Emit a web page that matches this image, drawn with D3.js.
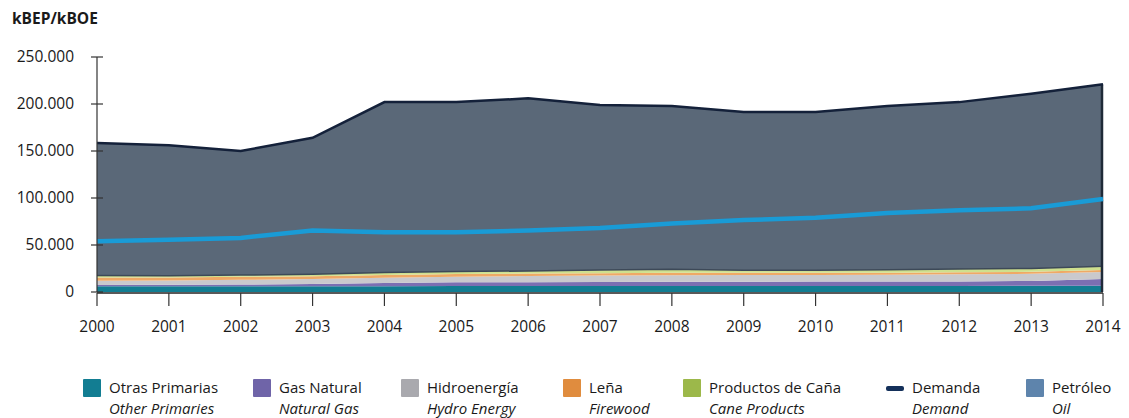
<!DOCTYPE html>
<html>
<head>
<meta charset="utf-8">
<script src="https://cdn.jsdelivr.net/npm/d3@7"></script>
<style>
  body { margin: 0; background: #fff; }
  svg text { font-family: "Open Sans", sans-serif; fill: #1a1a1a; }
</style>
</head>
<body>
<svg id="chart" width="1129" height="418"></svg>
<script>
var years = [2000, 2001, 2002, 2003, 2004, 2005, 2006, 2007, 2008, 2009, 2010, 2011, 2012, 2013, 2014];

var otrasPrimarias = [6000, 6000, 6000, 6000, 6200, 6300, 6300, 6400, 6400, 6500, 6500, 6500, 6500, 6600, 6700];
var gasNatural     = [1500, 1800, 2000, 2500, 3500, 4000, 4200, 4300, 4500, 4500, 4600, 4600, 4800, 5200, 7000];
var hidroenergia   = [4500, 4500, 5000, 5200, 5500, 6000, 6500, 6800, 7000, 7000, 7000, 7200, 7500, 7500, 7500];
var lena           = [3500, 3200, 3200, 3000, 3000, 2800, 2600, 2500, 2500, 2400, 2300, 2300, 2200, 2200, 2200];
var productosCana  = [2000, 1800, 1800, 2200, 2500, 2600, 2800, 3500, 3800, 2800, 2800, 3200, 3500, 3500, 4000];
var petroleo       = [141000, 138700, 132000, 145100, 181300, 180300, 183600, 175500, 173800, 168300, 168300, 174200, 177500, 186000, 193600];
var demanda        = [158500, 156000, 150000, 164000, 202000, 202000, 206000, 199000, 198000, 191500, 191500, 198000, 202000, 211000, 221000];
var lineaCeleste   = [54000, 55500, 57500, 65500, 63500, 63500, 65500, 68000, 73000, 76500, 79000, 84000, 87000, 89000, 99000];

var yTicks = [0, 50000, 100000, 150000, 200000, 250000];

var series = [
  {key: "otras", color: "#127d92", values: otrasPrimarias},
  {key: "gas", color: "#7b6fb2", values: gasNatural},
  {key: "hidro", color: "#c9c9cd", values: hidroenergia},
  {key: "lena", color: "#efa965", values: lena},
  {key: "cana", color: "#cfe08e", values: productosCana},
  {key: "petroleo", color: "#5a6878", values: petroleo}
];

var table = years.map(function (y, i) {
  var row = {year: y};
  series.forEach(function (s) { row[s.key] = s.values[i]; });
  return row;
});

var svg = d3.select("#chart");
var margin = {left: 97, right: 1103, top: 57, bottom: 292};

var x = d3.scaleLinear().domain([2000, 2014]).range([margin.left, margin.right]);
var y = d3.scaleLinear().domain([0, 250000]).range([margin.bottom, margin.top]);

var stack = d3.stack().keys(series.map(function (s) { return s.key; }));
var layers = stack(table);

var area = d3.area()
  .x(function (d) { return x(d.data.year); })
  .y0(function (d) { return y(d[0]); })
  .y1(function (d) { return y(d[1]); });

var colorOf = {};
series.forEach(function (s) { colorOf[s.key] = s.color; });

svg.append("g").selectAll("path")
  .data(layers)
  .enter().append("path")
  .attr("d", area)
  .attr("fill", function (d) { return colorOf[d.key]; });

// dark edge under the oil layer
var lowerEdge = d3.line()
  .x(function (d) { return x(d.data.year); })
  .y(function (d) { return y(d[0]); });
svg.append("path")
  .datum(layers[5])
  .attr("d", lowerEdge)
  .attr("fill", "none")
  .attr("stroke", "#3d4958")
  .attr("stroke-width", 1.5);

// right shadow edge
svg.append("line")
  .attr("x1", x(2014) - 1).attr("x2", x(2014) - 1)
  .attr("y1", y(demanda[14])).attr("y2", y(0))
  .attr("stroke", "#1f2a38")
  .attr("stroke-width", 2.5);

// light blue line
var line = d3.line()
  .x(function (d, i) { return x(years[i]); })
  .y(function (d) { return y(d); });

svg.append("path")
  .datum(lineaCeleste)
  .attr("d", line)
  .attr("fill", "none")
  .attr("stroke", "#199bd6")
  .attr("stroke-width", 4.5);

// demand line (top)
svg.append("path")
  .datum(demanda)
  .attr("d", line)
  .attr("fill", "none")
  .attr("stroke", "#14213a")
  .attr("stroke-width", 2.5);

// axes
var yAxis = svg.append("g");
yAxis.append("line")
  .attr("x1", margin.left).attr("x2", margin.left)
  .attr("y1", y(250000)).attr("y2", y(0))
  .attr("stroke", "#333").attr("stroke-width", 1.2);
yAxis.selectAll(".tick").data(yTicks).enter().append("line")
  .attr("x1", margin.left - 6).attr("x2", margin.left + 6)
  .attr("y1", function (d) { return y(d); }).attr("y2", function (d) { return y(d); })
  .attr("stroke", "#333").attr("stroke-width", 1.2);
yAxis.selectAll(".lbl").data(yTicks).enter().append("text")
  .attr("x", 74)
  .attr("y", function (d) { return y(d); })
  .attr("dy", "0.35em")
  .attr("text-anchor", "end")
  .attr("font-size", 15.5)
  .text(function (d) { return d === 0 ? "0" : d3.format(",")(d).replace(/,/g, "."); });

var xAxis = svg.append("g");
xAxis.append("line")
  .attr("x1", margin.left).attr("x2", margin.right)
  .attr("y1", y(0) + 1).attr("y2", y(0) + 1)
  .attr("stroke", "#222").attr("stroke-width", 1.5);
xAxis.selectAll(".tick").data(years).enter().append("line")
  .attr("x1", function (d) { return x(d); }).attr("x2", function (d) { return x(d); })
  .attr("y1", y(0) + 1).attr("y2", y(0) + 14)
  .attr("stroke", "#333").attr("stroke-width", 1.2);
xAxis.selectAll(".lbl").data(years).enter().append("text")
  .attr("x", function (d) { return x(d); })
  .attr("y", 332)
  .attr("text-anchor", "middle")
  .attr("font-size", 15.5)
  .text(function (d) { return d; });

svg.append("text")
  .attr("x", 12).attr("y", 24)
  .attr("font-size", 15.5)
  .attr("font-weight", "bold")
  .text("kBEP/kBOE");

// legend
var legendItems = [
  {es: "Otras Primarias", en: "Other Primaries", color: "#127d92", x: 83},
  {es: "Gas Natural", en: "Natural Gas", color: "#6f64a8", x: 253},
  {es: "Hidroenergía", en: "Hydro Energy", color: "#a9a9ae", x: 401},
  {es: "Leña", en: "Firewood", color: "#e08c3e", x: 563},
  {es: "Productos de Caña", en: "Cane Products", color: "#9cb84a", x: 683},
  {es: "Demanda", en: "Demand", color: "#14305a", x: 886, line: true},
  {es: "Petróleo", en: "Oil", color: "#5e84ac", x: 1026}
];

var legend = svg.append("g");
var item = legend.selectAll("g").data(legendItems).enter().append("g")
  .attr("transform", function (d) { return "translate(" + d.x + ",379)"; });

item.append("rect")
  .attr("y", function (d) { return d.line ? 7 : 0; })
  .attr("width", 18)
  .attr("height", function (d) { return d.line ? 5 : 18; })
  .attr("rx", function (d) { return d.line ? 2 : 1; })
  .attr("fill", function (d) { return d.color; });

item.append("text")
  .attr("x", 26).attr("y", 14)
  .attr("font-size", 15)
  .text(function (d) { return d.es; });

item.append("text")
  .attr("x", 26).attr("y", 35)
  .attr("font-size", 15)
  .attr("font-style", "italic")
  .text(function (d) { return d.en; });
</script>
</body>
</html>
